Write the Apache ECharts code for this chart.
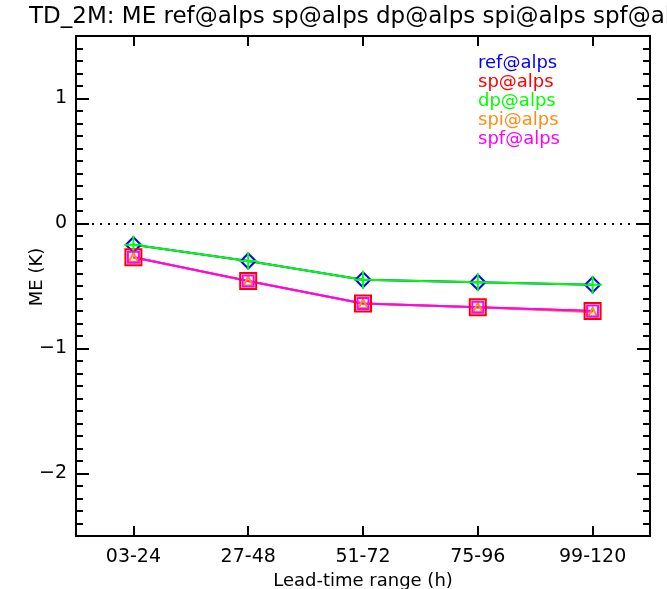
<!DOCTYPE html>
<html>
<head>
<meta charset="utf-8">
<script src="https://cdn.jsdelivr.net/npm/echarts@6/dist/echarts.min.js"></script>
<style>html,body{margin:0;padding:0;background:#fff;}#c{width:667px;height:589px;}</style>
</head>
<body>
<div id="c"></div>
<script>
var categories = ['03-24', '27-48', '51-72', '75-96', '99-120'];
var seriesNames = ['ref@alps', 'sp@alps', 'dp@alps', 'spi@alps', 'spf@alps'];
var refValues = [-0.17, -0.30, -0.45, -0.47, -0.49];
var spValues  = [-0.27, -0.46, -0.64, -0.67, -0.70];
var dpValues  = [-0.17, -0.30, -0.45, -0.47, -0.49];
var spiValues = [-0.27, -0.46, -0.64, -0.67, -0.71];
var spfValues = [-0.27, -0.46, -0.64, -0.67, -0.70];
var yMajorTicks = [-2, -1, 0, 1];
var colors = ['#0000ff', '#ff0000', '#00ff00', '#ff8c1a', '#ff00ff'];

var FONT = 'DejaVu Sans';
var chart = echarts.init(document.getElementById('c'));

function yAxisDef(pos, major, showLabel) {
  return {
    type: 'value', position: pos, min: -2.5, max: 1.5, interval: 0.1,
    axisLine: {show: true, onZero: false, lineStyle: {color: '#000', width: 2}},
    axisTick: major ? {show: true, inside: true, length: 13, lineStyle: {color: '#000', width: 2}, customValues: yMajorTicks}
                    : {show: true, inside: true, length: 7, lineStyle: {color: '#000', width: 2}},
    axisLabel: showLabel ? {show: true, customValues: yMajorTicks, margin: 9, color: '#000', fontFamily: FONT, fontSize: 19,
                 formatter: function (v) { return String(v).replace('-', '\u2212'); }} : {show: false},
    splitLine: {show: false},
    name: showLabel ? 'ME (K)' : '',
    nameLocation: 'middle', nameGap: 30, nameMoveOverlap: false,
    nameTextStyle: {color: '#000', fontFamily: FONT, fontSize: 18, padding: [0, 0, 0, 18]}
  };
}

var data = [refValues, spValues, dpValues, spiValues, spfValues];
var symbols = ['diamond', 'rect', 'path://M0,-1L0,1M-1,0L1,0', 'triangle', 'rect'];
var sizes = [15, 16, 18, 9, 11];

var series = seriesNames.map(function (n, i) {
  var s = {
    name: n, type: 'line', data: data[i], xAxisIndex: 0, yAxisIndex: 0,
    symbol: symbols[i], symbolSize: sizes[i], showAllSymbol: true,
    lineStyle: {color: colors[i], width: 2},
    itemStyle: {color: 'rgba(0,0,0,0)', borderColor: colors[i], borderWidth: 2},
    emphasis: {disabled: true}, animation: false
  };
  if (i === 0) {
    s.markLine = {
      silent: true, symbol: ['none', 'none'], label: {show: false},
      lineStyle: {color: '#000', type: [2, 6], width: 2},
      data: [{yAxis: 0}], animation: false
    };
  }
  return s;
});

chart.setOption({
  backgroundColor: '#fff',
  animation: false,
  title: {
    text: 'TD_2M: ME ref@alps sp@alps dp@alps spi@alps spf@alps',
    left: 24, top: 1,
    textStyle: {color: '#000', fontFamily: FONT, fontSize: 23, fontWeight: 'normal'}
  },
  legend: {
    orient: 'vertical', left: 468, top: 49, itemWidth: 0, itemHeight: 0, itemGap: 1,
    icon: 'none', selectedMode: false,
    textStyle: {fontFamily: FONT, fontSize: 18},
    data: seriesNames.map(function (n, i) { return {name: n, textStyle: {color: colors[i]}}; })
  },
  grid: {left: 76, right: 17, top: 36, bottom: 53, containLabel: false, outerBoundsMode: 'none'},
  xAxis: [
    {
      type: 'category', data: categories, position: 'bottom', boundaryGap: true,
      axisLine: {show: true, onZero: false, lineStyle: {color: '#000', width: 2}},
      axisTick: {show: true, inside: true, alignWithLabel: true, length: 10, lineStyle: {color: '#000', width: 2}},
      axisLabel: {color: '#000', fontFamily: FONT, fontSize: 19, margin: 12},
      name: 'Lead-time range (h)', nameLocation: 'middle', nameGap: 36, nameMoveOverlap: false,
      nameTextStyle: {color: '#000', fontFamily: FONT, fontSize: 18}
    },
    {
      type: 'category', data: categories, position: 'top', boundaryGap: true,
      axisLine: {show: true, onZero: false, lineStyle: {color: '#000', width: 2}},
      axisTick: {show: true, inside: true, alignWithLabel: true, length: 10, lineStyle: {color: '#000', width: 2}},
      axisLabel: {show: false}
    }
  ],
  yAxis: [
    yAxisDef('left', true, true),
    yAxisDef('left', false, false),
    yAxisDef('right', true, false),
    yAxisDef('right', false, false)
  ],
  series: series
});
</script>
</body>
</html>
